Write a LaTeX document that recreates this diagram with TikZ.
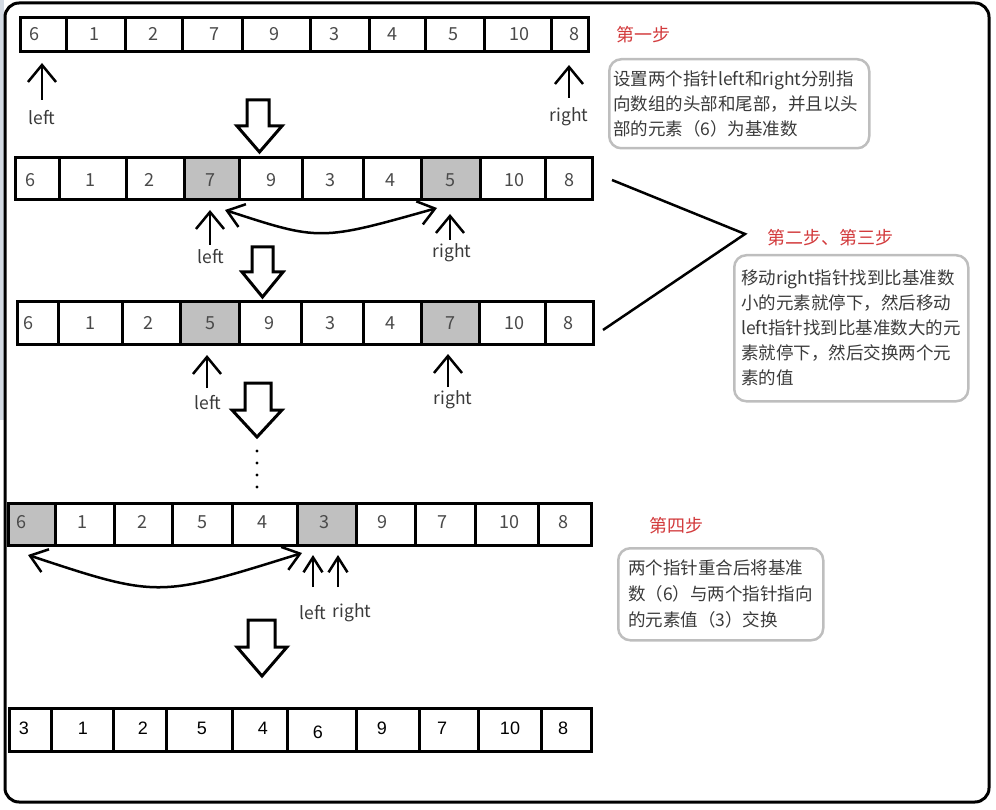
\documentclass[tikz,border=0pt]{standalone}
\usepackage{fontspec}
\setmainfont{Noto Sans CJK SC}
\newfontfamily\numfont{Liberation Sans}
\usepackage{tikz}
\usetikzlibrary{calc}
\usetikzlibrary{arrows.meta}
\usetikzlibrary{positioning}

\definecolor{celda}{HTML}{C0C0C0}
\definecolor{texto}{HTML}{3A3A3A}
\definecolor{cifra}{HTML}{4A4A4A}
\definecolor{rojo}{HTML}{D23A3C}
\definecolor{borde}{HTML}{BEBEBE}
\definecolor{franja}{HTML}{D3DAE3}

\tikzset{
  caja/.style={line width=3pt},
  num/.style={text=cifra, font=\fontsize{18}{20}\selectfont, inner sep=0pt},
  numfin/.style={text=black, font=\numfont\fontsize{18}{20}\selectfont, inner sep=0pt},
  lbl/.style={text=texto, font=\fontsize{17.5}{20}\selectfont, inner sep=0pt},
  paso/.style={text=rojo, font=\fontsize{18}{20}\selectfont, inner sep=0pt},
  ptr/.style={line width=2.5pt, -{Straight Barb[length=17pt,width=28pt]}},
  ptrc/.style={line width=2.5pt, -{Straight Barb[length=15pt,width=19pt]}},
  swap/.style={line width=2.5pt, {Straight Barb[length=16pt,width=24pt]}-{Straight Barb[length=16pt,width=24pt]}},
  nota/.style={draw=borde, line width=2.5pt, rounded corners=12pt, text=texto, font=\fontsize{17.5}{25}\selectfont, align=left, anchor=north west},
  hueco/.style={line width=3pt, line join=miter, fill=white}
}

\begin{document}
\begin{tikzpicture}[x=1pt, y=-1pt]
  \useasboundingbox (0,0) rectangle (996,810);
  \fill [franja] (0,0) rectangle (4,420); % franja izquierda
  \draw [line width=3pt, rounded corners=14pt] (5,3) rectangle (989,802); % marco

  % fila 1
  \foreach \l/\r/\v/\nx [count=\i] in {20/66/6/34, 66/125/1/94, 125/182/2/153, 182/242/7/214, 242/310/9/274, 310/369/3/334, 369/425/4/392, 425/484/5/453, 484/551/10/519, 551/588/8/574}
    {\draw [caja] (\l,18) rectangle (\r,52);
     \node [num] (a\i) at (\nx,34) {\v};}
  % fila 2
  \foreach \l/\r/\v/\nx/\f [count=\i] in {15/59/6/30/white, 59/126/1/90/white, 126/184/2/149/white, 184/239/7/210/celda, 239/302/9/271/white, 302/363/3/330/white, 363/421/4/390/white, 421/480/5/450/celda, 480/545/10/514/white, 545/592/8/569/white}
    {\draw [caja, fill=\f] (\l,158) rectangle (\r,200);
     \node [num] (b\i) at (\nx,180) {\v};}
  % fila 3
  \foreach \l/\r/\v/\nx/\f [count=\i] in {17/58/6/28/white, 58/122/1/90/white, 122/180/2/148/white, 180/239/5/210/celda, 239/301/9/269/white, 301/363/3/330/white, 363/421/4/390/white, 421/479/7/450/celda, 479/545/10/514/white, 545/593/8/568/white}
    {\draw [caja, fill=\f] (\l,302) rectangle (\r,344);
     \node [num] (c\i) at (\nx,323) {\v};}
  % fila 4
  \foreach \l/\r/\v/\nx/\f [count=\i] in {8/55/6/21/celda, 55/114/1/82/white, 114/172/2/142/white, 172/232/5/202/white, 232/297/4/262/white, 297/356/3/324/celda, 356/415/9/382/white, 415/475/7/442/white, 475/538/10/509/white, 538/591/8/563/white}
    {\draw [caja, fill=\f] (\l,503) rectangle (\r,545);
     \node [num] (d\i) at (\nx,522) {\v};}
  % fila 5
  \foreach \l/\r/\v/\nx/\ny [count=\i] in {9/51/3/24/728, 51/113/1/83/728, 113/166/2/143/728, 166/232/5/202/728, 232/287/4/263/728, 287/356/6/318/732, 356/419/9/382/728, 419/478/7/442/728, 478/541/10/510/728, 541/591/8/563/728}
    {\draw [caja] (\l,708) rectangle (\r,751);
     \node [numfin] (e\i) at (\nx,\ny) {\v};}

  % punteros
  \coordinate (p1l) at (42,100);  \coordinate (p1lt) at (42,63);
  \coordinate (p1r) at (569,98);  \coordinate (p1rt) at (569,65);
  \coordinate (p2l) at (210,245); \coordinate (p2lt) at (210,210);
  \coordinate (p2r) at (450,240); \coordinate (p2rt) at (450,214);
  \coordinate (p3l) at (207,388); \coordinate (p3lt) at (207,355);
  \coordinate (p3r) at (448,387); \coordinate (p3rt) at (448,354);
  \coordinate (p4l) at (313,587); \coordinate (p4lt) at (313,555);
  \coordinate (p4r) at (338,587); \coordinate (p4rt) at (338,555);
  \foreach \p in {p1l,p1r,p2l,p2r,p3l,p3r}
    \draw [ptr] (\p) -- (\p t);
  \draw [ptrc] (p4l) -- (p4lt);
  \draw [ptrc] (p4r) -- (p4rt);
  \node [lbl] (t1l) at (42,118) {left};
  \node [lbl] (t1r) at (569,117) {right};
  \node [lbl] (t2l) at (211,257) {left};
  \node [lbl] (t2r) at (452,253) {right};
  \node [lbl] (t3l) at (208,403) {left};
  \node [lbl] (t3r) at (453,400) {right};
  \node [lbl] (t4l) at (313,613) {left};
  \node [lbl] (t4r) at (352,613) {right};

  % intercambios
  \coordinate (s2a) at (225,210); \coordinate (s2b) at (437,208);
  \draw [swap] (s2a) .. controls (320,241) .. (s2b);
  \coordinate (s4a) at (28,555);  \coordinate (s4b) at (302,553);
  \draw [swap] (s4a) .. controls (158,598) .. (s4b);

  % flechas huecas
  \draw [hueco] (247,100) -- (269,100) -- (269,126) -- (282,126) -- (259.5,152) -- (237,126) -- (247,126) -- cycle;
  \draw [hueco] (252,247) -- (273,247) -- (273,272) -- (283,272) -- (262.5,297) -- (242,272) -- (252,272) -- cycle;
  \draw [hueco] (245,383) -- (271,383) -- (271,410) -- (282,410) -- (257,437) -- (232,410) -- (245,410) -- cycle;
  \draw [hueco] (248,620) -- (275,620) -- (275,647) -- (287,647) -- (262,676) -- (237,647) -- (248,647) -- cycle;
  \foreach \y in {451,463,475,487}
    \fill (257,\y) circle (1.7); % puntos

  % notas
  \node [paso] (paso1) at (643,35) {第一步};
  \node [nota, text width=252pt, minimum width=260pt, minimum height=89pt, inner xsep=4pt, inner ysep=0pt] (nota1) at (608,58)
    {设置两个指针left和right分别指\\向数组的头部和尾部，并且以头\\部的元素（6）为基准数};
  \coordinate (v1) at (612,180); \coordinate (v2) at (745,234); \coordinate (v3) at (603,330);
  \draw [line width=2.5pt] (v1) -- (v2) -- (v3);
  \node [paso] (paso2) at (830,238) {第二步、第三步};
  \node [nota, text width=220pt, minimum width=234pt, minimum height=146pt, inner xsep=7pt, inner ysep=0pt] (nota2) at (733,254)
    {移动right指针找到比基准数\\小的元素就停下，然后移动\\left指针找到比基准数大的元\\素就停下，然后交换两个元\\素的值};
  \node [paso] (paso4) at (676,526) {第四步};
  \node [nota, text width=185pt, minimum width=205pt, minimum height=92pt, inner xsep=10pt, inner ysep=0pt, font=\fontsize{17.5}{26}\selectfont] (nota4) at (617,547)
    {两个指针重合后将基准\\数（6）与两个指针指向\\的元素值（3）交换};
\end{tikzpicture}
\end{document}
